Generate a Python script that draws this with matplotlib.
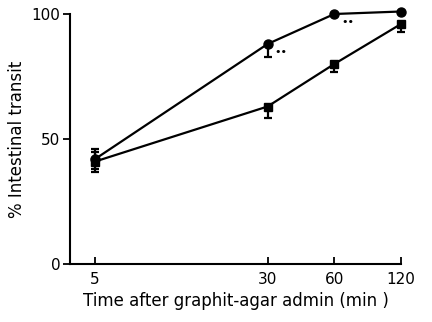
import matplotlib
matplotlib.use("Agg")
import matplotlib.pyplot as plt
import numpy as np

# data
time_min = [5, 30, 60, 120]

control = [42, 88, 100, 101]          # filled circles
control_err_lo = [4, 5, 0, 0]
control_err_hi = [4, 0, 0, 0]

treated = [41, 63, 80, 96]            # filled squares
treated_err_lo = [4, 4.5, 3, 3]
treated_err_hi = [4, 0, 0, 0]

signif_x = [30, 60]
signif_y = [88, 100]

xticks = [5, 30, 60, 120]
yticks = [0, 50, 100]

plt.rcParams.update({
    "font.family": "DejaVu Sans",
    "font.size": 11,
})

fig = plt.figure(figsize=(4.32, 3.22), dpi=100)
ax = fig.add_axes([70 / 432, 58 / 322, 331 / 432, 250 / 322])

for vals, lo, hi, fmt, ms in [(control, control_err_lo, control_err_hi, "o-", 6.5),
                              (treated, treated_err_lo, treated_err_hi, "s-", 6)]:
    cont = ax.errorbar(time_min, vals, yerr=[lo, hi], fmt=fmt, color="black",
                       lw=1.6, ms=ms, capsize=3, elinewidth=1.6, capthick=1.6)
    for art in cont.get_children():
        art.set_clip_on(False)

for x, y in zip(signif_x, signif_y):
    ax.annotate("••", (x, y), xytext=(5, -6), textcoords="offset points",
                fontsize=8, ha="left", va="center")

ax.set_xscale("log")
ax.set_xlim(3.85, 120)
ax.set_ylim(0, 100)
ax.set_xticks(xticks)
ax.set_xticklabels([str(t) for t in xticks])
ax.xaxis.set_minor_locator(matplotlib.ticker.NullLocator())
ax.set_yticks(yticks)

ax.spines["top"].set_visible(False)
ax.spines["right"].set_visible(False)
ax.spines["left"].set_linewidth(1.5)
ax.spines["bottom"].set_linewidth(1.5)
ax.tick_params(axis="x", direction="in", length=5, width=1.3, labelsize=11, pad=6)
ax.tick_params(axis="y", direction="out", length=5, width=1.3, labelsize=11, pad=2)

ax.set_xlabel("Time after graphit-agar admin (min )", fontsize=12, labelpad=3)
ax.set_ylabel("% Intestinal transit", fontsize=12, labelpad=4)

fig.savefig("out.png", dpi=100)
